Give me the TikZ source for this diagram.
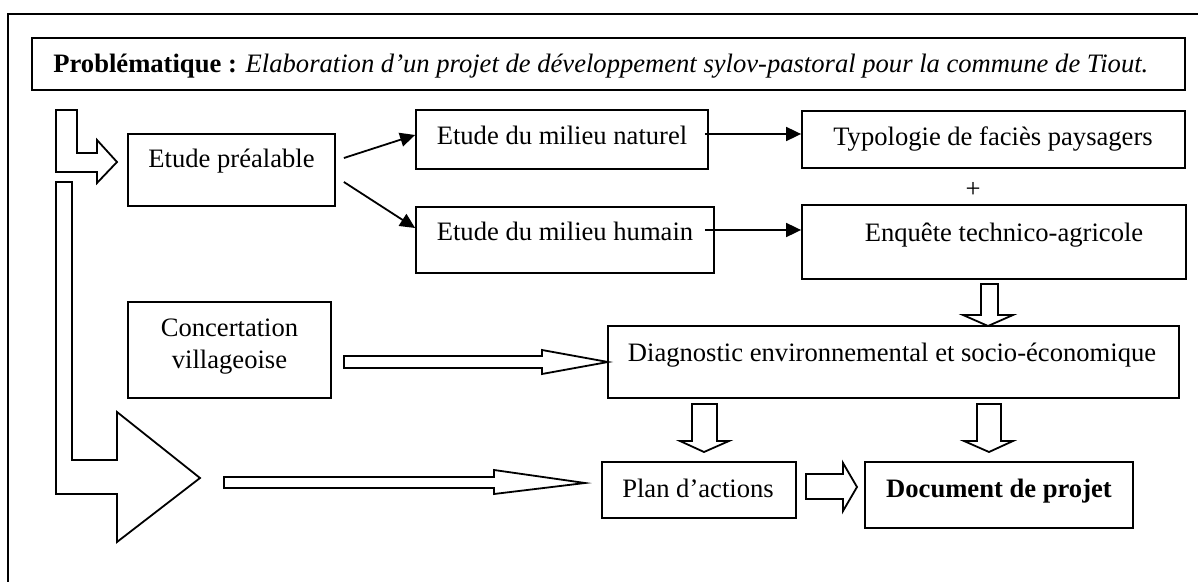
\documentclass[tikz,border=0pt]{standalone}
\usepackage{fontspec}
\setmainfont{Liberation Serif}
\usetikzlibrary{arrows.meta,fit,calc}
\begin{document}
\begin{tikzpicture}[x=0.5pt,y=-0.5pt,
  box/.style={draw, line width=0.9pt, inner sep=0pt},
  txt/.style={inner sep=0pt, anchor=base, font=\fontsize{13.3}{16}\selectfont},
  arr/.style={line width=0.9pt, -{Triangle[length=7.5pt,width=7pt]}},
  blk/.style={draw, line width=0.9pt, line join=miter, fill=white}]
\useasboundingbox (0,0) rectangle (1198,582);
% outer frame (cut on right and bottom)
\draw[line width=0.9pt] (1198,14) -- (8,14) -- (8,582);
% boxes
\node[box, fit={(32,38) (1185,90)}] (title) {};
\node[box, fit={(128,134) (335,206)}] (pre) {};
\node[box, fit={(416,110) (708,169)}] (nat) {};
\node[box, fit={(416,207) (714,273)}] (hum) {};
\node[box, fit={(802,111) (1185,168)}] (typ) {};
\node[box, fit={(802,205) (1186,279)}] (enq) {};
\node[box, fit={(128,302) (331,398)}] (conc) {};
\node[box, fit={(608,326) (1179,398)}] (diag) {};
\node[box, fit={(602,462) (796,518)}] (plan) {};
\node[box, fit={(865,462) (1133,528)}] (doc) {};
% texts
\node[txt, anchor=base west] (title-t) at (53,72.5) {\textbf{Problématique :} \textit{Elaboration d’un projet de développement sylov-pastoral pour la commune de Tiout.}};
\node[txt] (pre-t) at (231.5,168) {Etude préalable};
\node[txt] (nat-t) at (562,145) {Etude du milieu naturel};
\node[txt] (hum-t) at (565,241) {Etude du milieu humain};
\node[txt] (typ-t) at (993,145.5) {Typologie de faciès paysagers};
\node[txt] (plus) at (973,198) {+};
\node[txt] (enq-t) at (1004,241.5) {Enquête technico-agricole};
\node[txt] (conc-t1) at (229.5,336.7) {Concertation};
\node[txt] (conc-t2) at (229.5,368.3) {villageoise};
\node[txt] (diag-t) at (892,361.7) {Diagnostic environnemental et socio-économique};
\node[txt] (plan-t) at (698,497) {Plan d’actions};
\node[txt] (doc-t) at (999,497) {\textbf{Document de projet}};
% thin arrows
\coordinate (p1) at ($(pre.east)+(8,-12)$);
\coordinate (p2) at ($(pre.east)+(8,12)$);
\draw[arr] (p1) -- ($(nat.west)+(0,-4.5)$);
\draw[arr] (p2) -- ($(hum.west)+(0,-12)$);
\coordinate (n1) at ($(nat.east)+(-4,-5.5)$);
\draw[arr] (n1) -- (n1 -| typ.west);
\coordinate (h1) at ($(hum.east)+(-10,-10)$);
\draw[arr] (h1) -- (h1 -| enq.west);
% block arrows
\draw[blk] (56,110) -- (77,110) -- (77,153) -- (97,153) -- (97,140) -- (117,162) -- (97,183) -- (97,172) -- (56,172) -- cycle;
\draw[blk] (56,182) -- (72,182) -- (72,460) -- (117,460) -- (117,412) -- (200,478) -- (117,542) -- (117,494) -- (56,494) -- cycle;
\draw[blk] (344,356) -- (542,356) -- (542,350) -- (608,362) -- (542,374) -- (542,368) -- (344,368) -- cycle;
\draw[blk] (224,477) -- (494,477) -- (494,470) -- (585,483) -- (494,494) -- (494,488) -- (224,488) -- cycle;
\draw[blk] (981,284) -- (998,284) -- (998,315) -- (1013,315) -- (988,326) -- (963,315) -- (981,315) -- cycle;
\draw[blk] (977,404) -- (1001,404) -- (1001,441) -- (1013,441) -- (989,452) -- (964,441) -- (977,441) -- cycle;
\draw[blk] (692,404) -- (717,404) -- (717,441) -- (729,441) -- (704,452) -- (680,441) -- (692,441) -- cycle;
\draw[blk] (806,474) -- (843,474) -- (843,463) -- (857,487) -- (843,511) -- (843,499) -- (806,499) -- cycle;
\end{tikzpicture}
\end{document}
